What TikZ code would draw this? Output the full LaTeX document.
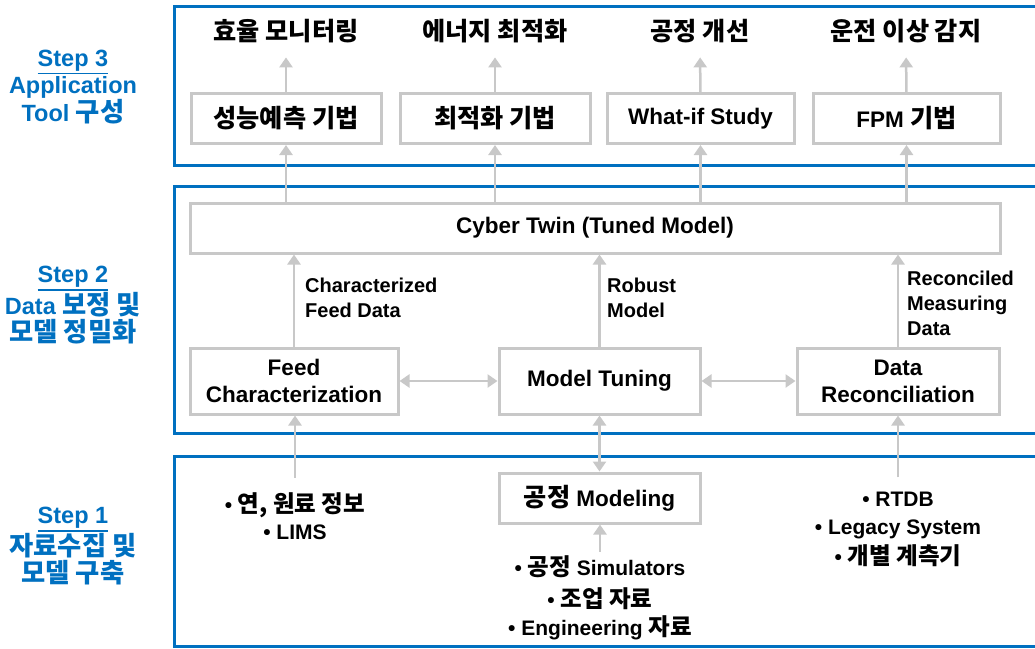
\documentclass[tikz,border=0pt]{standalone}
\usepackage{fontspec}
\setmainfont{Liberation Sans}
\newfontfamily\krfont{Noto Sans CJK KR}[Scale=1.12]
\usetikzlibrary{arrows.meta,positioning}
\definecolor{stepblue}{RGB}{0,112,192}
\definecolor{boxgray}{RGB}{200,200,200}
\newcommand{\kor}[1]{{\krfont #1}}
\newcommand{\stepline}[1]{\leavevmode\vtop{\hbox{#1}\kern1.5pt\hrule height 1.6pt}}

\begin{document}
\begin{tikzpicture}[x=1pt, y=-1pt, font=\bfseries\fontsize{22.5}{27}\selectfont,
	stage/.style={draw=stepblue, line width=3pt},
	box/.style={draw=boxgray, line width=3pt, minimum height=50pt, align=center, inner sep=2pt},
	arr/.style={draw=boxgray, line width=2.5pt, -{Triangle[width=13pt,length=10pt]}},
	darr/.style={arr, {Triangle[width=13pt,length=10pt]}-{Triangle[width=13pt,length=10pt]}},
	steplab/.style={text=stepblue, align=center, font=\bfseries\fontsize{23.5}{27}\selectfont},
	note/.style={align=left, inner sep=0pt, font=\bfseries\fontsize{20}{25}\selectfont},
	item/.style={align=center, inner sep=0pt, font=\bfseries\fontsize{21}{29}\selectfont}]
	\useasboundingbox (0,0) rectangle (1035,648);
	\clip (0,0) rectangle (1035,648);
	
	\draw[stage] (174,6) rectangle (1045,165);
	\draw[stage] (174,186) rectangle (1045,433);
	\draw[stage] (174,456) rectangle (1045,646);
	
	\node[steplab] (step3) at (73,87) {\stepline{Step 3}\\Application\\Tool \kor{구성}};
	\node[steplab] (step2) at (73,305) {\stepline{Step 2}\\Data \kor{보정 및}\\\kor{모델 정밀화}};
	\node[steplab] (step1) at (73,546) {\stepline{Step 1}\\\kor{자료수집 및}\\\kor{모델 구축}};
	
	% Step 3
	\node (mon) at (286,31) {\kor{효율 모니터링}};
	\node (ener) at (495,31) {\kor{에너지 최적화}};
	\node (impr) at (700,31) {\kor{공정 개선}};
	\node (fault) at (906,31) {\kor{운전 이상 감지}};
	\node[box, minimum width=190pt] (pred) at (286,118.5) {\kor{성능예측 기법}};
	\node[box, minimum width=190pt] (opt) at (495,118.5) {\kor{최적화 기법}};
	\node[box, minimum width=187pt] (whatif) at (700.5,118.5) {What-if Study};
	\node[box, minimum width=187pt] (fpm) at (906.5,118.5) {FPM \kor{기법}};
	\foreach \src/\dst in {pred/mon, opt/ener, whatif/impr, fpm/fault}
	\draw[arr, shorten >=11pt] (\src) -- (\dst);
	
	% Step 2
	\node[box, minimum width=810pt] (twin) at (595,228) {Cyber Twin (Tuned Model)};
	\foreach \dst in {pred, opt, whatif, fpm}
	\draw[arr] (\dst |- twin.north) -- (\dst);
	\node[box, minimum width=208pt, minimum height=66pt] (feed) at (294,381) {Feed\\Characterization};
	\node[box, minimum width=201pt, minimum height=66pt] (tune) at (599.5,381) {Model Tuning};
	\node[box, minimum width=202pt, minimum height=66pt] (recon) at (898,381) {Data\\Reconciliation};
	\foreach \src in {feed, tune, recon}
	\draw[arr] (\src) -- (\src |- twin.south);
	\draw[darr] (feed) -- (tune);
	\draw[darr] (tune) -- (recon);
	\node[note, anchor=west] (cfd) at (305,298) {Characterized\\Feed Data};
	\node[note, anchor=west] (robust) at (607,297.5) {Robust\\Model};
	\node[note, anchor=west] (rmd) at (907,303) {Reconciled\\Measuring\\Data};
	
	% Step 1
	\node[box, minimum width=201pt] (pmod) at (599.5,498) {\kor{공정} Modeling};
	\draw[darr] (tune) -- (pmod);
	\node[item] (feedsrc) at (295,516.5) {• \kor{연, 원료 정보}\\[-2pt]• LIMS};
	\node[item] (simsrc) at (600,598) {• \kor{공정} Simulators\\[3pt]• \kor{조업 자료}\\[-1pt]• Engineering \kor{자료}};
	\node[item] (plantsrc) at (898,529) {• RTDB\\[-1pt]• Legacy System\\[1pt]• \kor{개별 계측기}};
	\draw[arr, shorten <=15pt] (feedsrc.north) -- (feedsrc.north |- feed.south);
	\draw[arr, shorten <=4pt] (simsrc.north) -- (simsrc.north |- pmod.south);
	\draw[arr, shorten <=14pt] (plantsrc.north) -- (plantsrc.north |- recon.south);
\end{tikzpicture}
\end{document}
